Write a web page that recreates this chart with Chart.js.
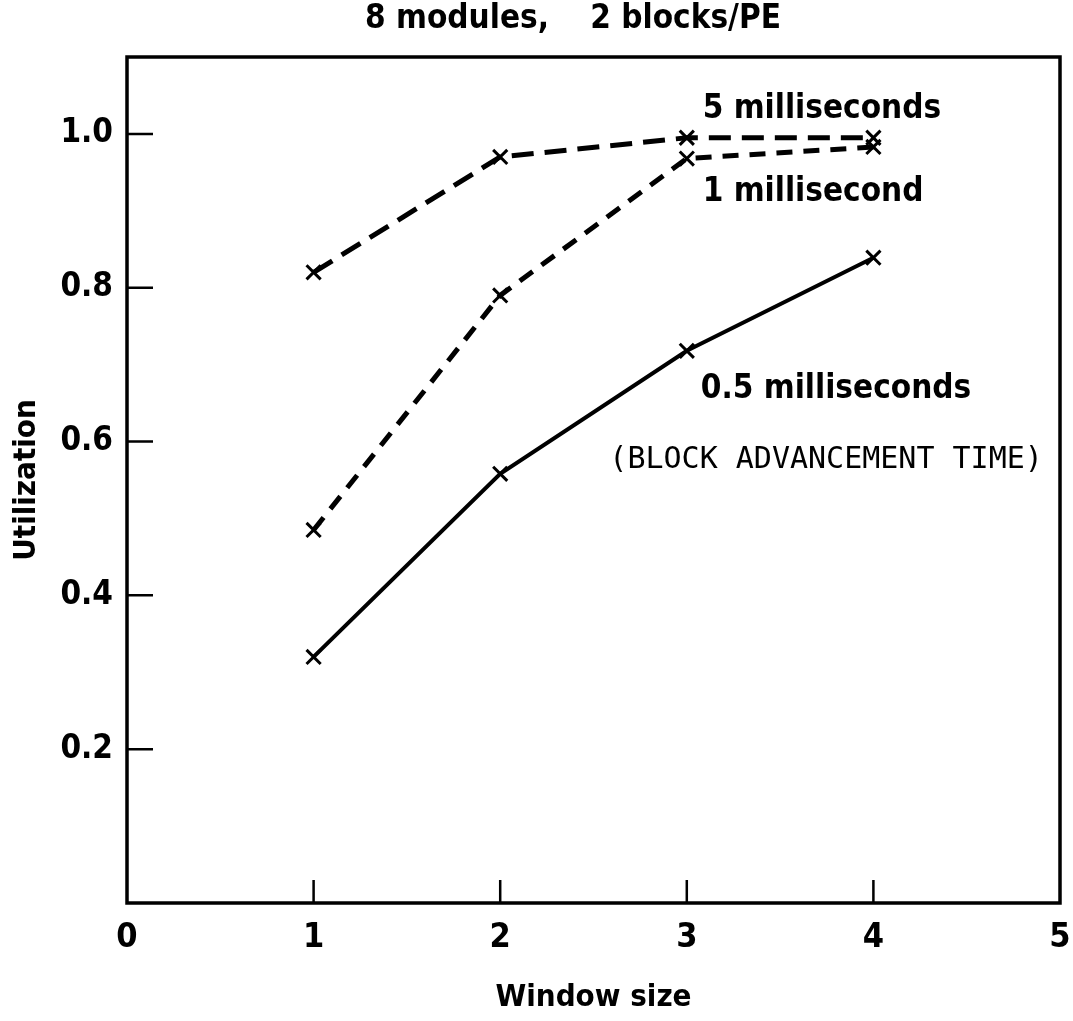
<!DOCTYPE html>
<html>
<head>
<meta charset="utf-8">
<script src="https://cdn.jsdelivr.net/npm/chart.js@4.4.1/dist/chart.umd.min.js"></script>
<style>
  html, body { margin: 0; padding: 0; background: #fff; }
  canvas { display: block; }
</style>
</head>
<body>
<canvas id="chart" width="1073" height="1021"></canvas>
<script>
'use strict';

// window size (x) and utilization for each block advancement time
var windowSizes = [1, 2, 3, 4];
var util5ms = [0.82, 0.97, 0.995, 0.995];
var util1ms = [0.485, 0.79, 0.968, 0.983];
var util05ms = [0.32, 0.558, 0.718, 0.839];

var xTicks = [0, 1, 2, 3, 4, 5];
var yTicks = [0.2, 0.4, 0.6, 0.8, 1.0];

var FONT = "'DejaVu Sans Condensed', 'Liberation Sans Narrow', 'DejaVu Sans', sans-serif";
var MONO = "'DejaVu Sans Mono', 'Liberation Mono', monospace";

function points(ys) {
	var out = [];
	for (var i = 0; i < windowSizes.length; i++) {
		out.push({ x: windowSizes[i], y: ys[i] });
	}
	return out;
}

function series(label, ys, dash, width) {
	return {
		label: label,
		data: points(ys),
		borderColor: '#000',
		backgroundColor: '#000',
		borderWidth: width,
		borderDash: dash,
		pointStyle: 'crossRot',
		pointRadius: 10,
		pointBorderWidth: 3,
		pointBorderColor: '#000',
		tension: 0,
		fill: false
	};
}

// box, inward tick marks and the text labels inside the plot
var framePlugin = {
	id: 'frame',
	afterDraw: function (chart) {
		var ctx = chart.ctx;
		var a = chart.chartArea;
		var xs = chart.scales.x;
		var ys = chart.scales.y;
		ctx.save();
		ctx.strokeStyle = '#000';
		ctx.lineWidth = 3.5;
		ctx.strokeRect(a.left, a.top, a.right - a.left, a.bottom - a.top);

		ctx.lineWidth = 2.5;
		ctx.beginPath();
		yTicks.forEach(function (v) {
			var py = ys.getPixelForValue(v);
			ctx.moveTo(a.left, py);
			ctx.lineTo(a.left + 26, py);
		});
		xTicks.slice(1, -1).forEach(function (v) {
			var px = xs.getPixelForValue(v);
			ctx.moveTo(px, a.bottom);
			ctx.lineTo(px, a.bottom - 23);
		});
		ctx.stroke();

		ctx.fillStyle = '#000';
		ctx.textBaseline = 'alphabetic';
		ctx.textAlign = 'center';
		ctx.font = 'bold 33px ' + FONT;
		ctx.fillText('8 modules,    2 blocks/PE', 573, 28);

		ctx.textAlign = 'left';
		ctx.fillText('5 milliseconds', xs.getPixelForValue(3.085), ys.getPixelForValue(1.021));
		ctx.fillText('1 millisecond', xs.getPixelForValue(3.085), ys.getPixelForValue(0.913));
		ctx.fillText('0.5 milliseconds', xs.getPixelForValue(3.075), ys.getPixelForValue(0.657));
		ctx.font = '30px ' + MONO;
		ctx.fillText('(BLOCK ADVANCEMENT TIME)', xs.getPixelForValue(2.585), ys.getPixelForValue(0.566));
		ctx.restore();
	}
};

var options = {
	type: 'line',
	data: {
		datasets: [
			series('5 milliseconds', util5ms, [22, 11], 5),
			series('1 millisecond', util1ms, [16, 11], 5),
			series('0.5 milliseconds', util05ms, [], 4)
		]
	},
	options: {
		responsive: false,
		animation: false,
		devicePixelRatio: 1,
		layout: { padding: { top: 57, right: 11, left: 0, bottom: 0 } },
		plugins: {
			legend: { display: false },
			tooltip: { enabled: false }
		},
		scales: {
			x: {
				type: 'linear',
				min: 0,
				max: 5,
				afterBuildTicks: function (axis) {
					axis.ticks = xTicks.map(function (v) { return { value: v }; });
				},
				afterFit: function (axis) {
					axis.height = 118;
					axis.paddingLeft = 0;
					axis.paddingRight = 0;
				},
				grid: { display: false, drawTicks: false },
				border: { display: false },
				ticks: {
					color: '#000',
					padding: 15,
					maxRotation: 0,
					font: { family: FONT, size: 34, weight: 'bold' },
					callback: function (v) { return String(v); }
				},
				title: {
					display: true,
					text: 'Window size',
					color: '#000',
					padding: { top: 0, bottom: 4 },
					font: { family: FONT, size: 31, weight: 'bold' }
				}
			},
			y: {
				type: 'linear',
				min: 0,
				max: 1.1,
				afterBuildTicks: function (axis) {
					axis.ticks = yTicks.map(function (v) { return { value: v }; });
				},
				afterFit: function (axis) { axis.width = 127; },
				grid: { display: false, drawTicks: false },
				border: { display: false },
				ticks: {
					color: '#000',
					padding: 14,
					font: { family: FONT, size: 33, weight: 'bold' },
					callback: function (v) { return v.toFixed(1); }
				},
				title: {
					display: true,
					text: 'Utilization',
					color: '#000',
					padding: { top: 8, bottom: 0 },
					font: { family: FONT, size: 31, weight: 'bold' }
				}
			}
		}
	},
	plugins: [framePlugin]
};

var ctx = document.getElementById('chart').getContext('2d');
var myChart = new Chart(ctx, options);
</script>
</body>
</html>
